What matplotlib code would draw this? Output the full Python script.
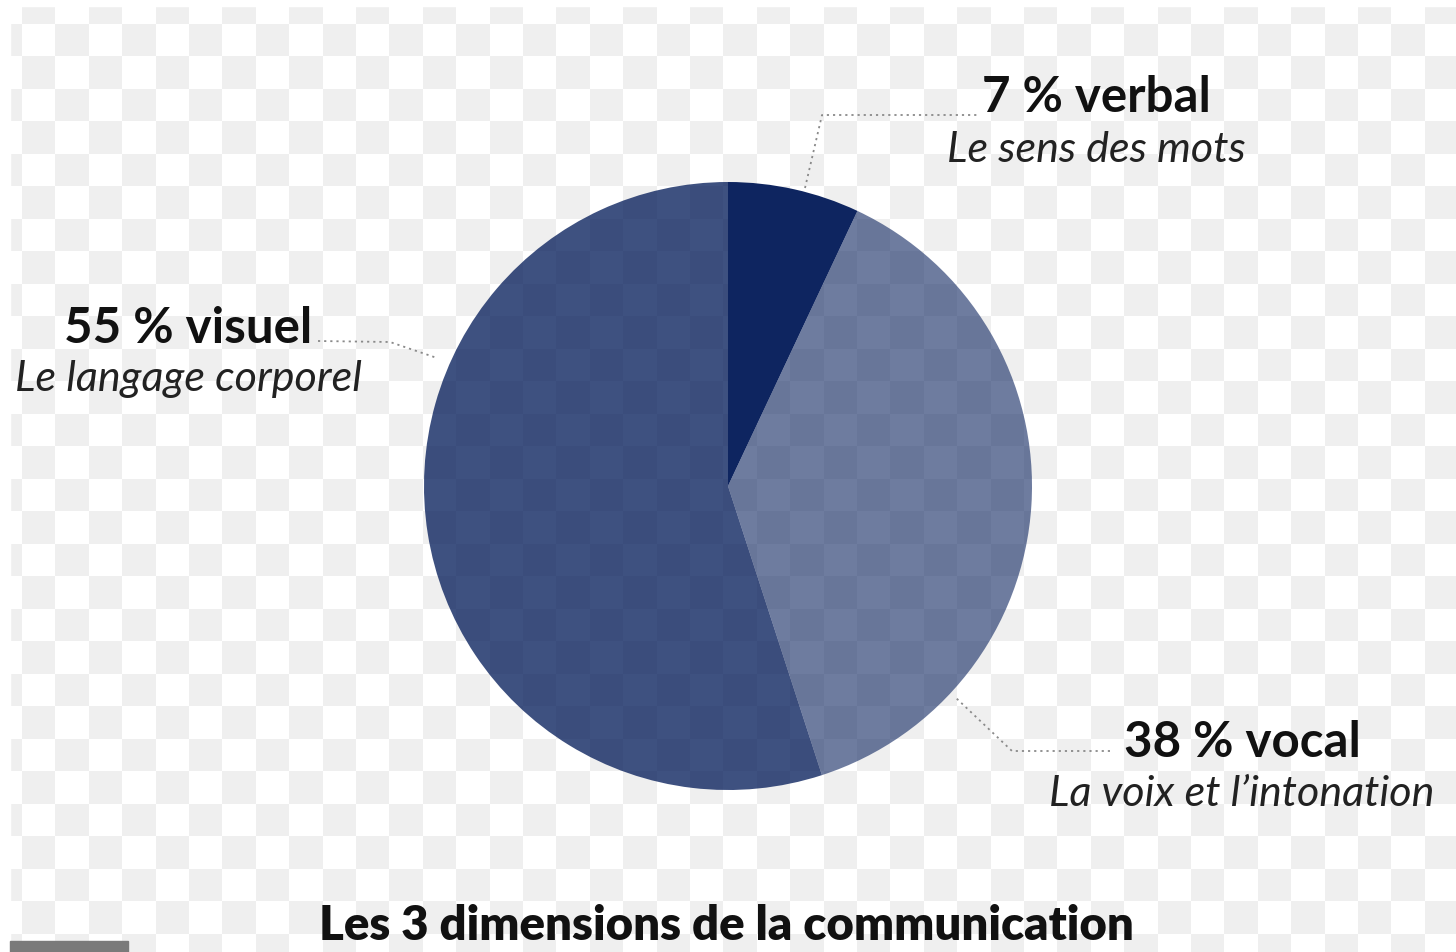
import numpy as np
import matplotlib
matplotlib.use("Agg")
import matplotlib.pyplot as plt
from matplotlib.patches import Rectangle

# data
labels = ["verbal", "vocal", "visuel"]
shares = [7, 38, 55]
subtitles = ["Le sens des mots", "La voix et l\u2019intonation", "Le langage corporel"]
title = "Les 3 dimensions de la communication"

W, H = 1456, 953
fig = plt.figure(figsize=(W / 100, H / 100), dpi=100)
ax = fig.add_axes([0, 0, 1, 1])

# checkerboard background (transparency pattern of the original picture)
cw, ch = 33.4, 32.5
x0, y0 = 22 - cw, 25 - ch
nc, nr = 45, 30
jj, kk = np.mgrid[0:nr, 0:nc]
board = np.where((jj + kk) % 2 == 0, 1.0, 0.937)
ax.imshow(board, cmap="gray", vmin=0, vmax=1, interpolation="nearest",
          extent=(x0, x0 + nc * cw, y0 + nr * ch, y0), zorder=0)
ax.add_patch(Rectangle((0, 0), 10, H, color="white", zorder=1))
ax.add_patch(Rectangle((0, 0), W, 7, color="white", zorder=1))
ax.add_patch(Rectangle((10, 942), 118, 12, color="#7a7a7a", zorder=1))

# pie (y axis is inverted: start at -90 and go counterclockwise in data = clockwise on screen)
navy = "#0e2560"
alphas = [1.0, 0.6, 0.8]
wedges, _ = ax.pie(shares, startangle=-90, counterclock=True, center=(728, 487),
                   radius=304, wedgeprops=dict(linewidth=0))
for w, a in zip(wedges, alphas):
    w.set_facecolor(navy)
    w.set_alpha(a)
    w.set_zorder(2)

# leader lines
lead = dict(color="#8a8a8a", lw=1.3, ls=(0, (1.2, 2.2)), zorder=3)
ax.plot([805, 822, 978], [189, 116, 116], **lead)
ax.plot([1110, 1012, 955], [752, 752, 698], **lead)
ax.plot([318, 390, 437], [342, 343, 359], **lead)

bold = dict(family=["Lato", "DejaVu Sans"], fontweight="bold", fontsize=35.5,
            color="#111111", ha="center", va="baseline", zorder=4)
ital = dict(family=["Lato", "DejaVu Sans"], style="italic", fontsize=31,
            color="#222222", ha="center", va="baseline", zorder=4)

pos = {"verbal": (1096, 112, 162), "vocal": (1242, 757, 806), "visuel": (188, 343, 391)}
for lab, sh, sub in zip(labels, shares, subtitles):
    x, yb, yi = pos[lab]
    ax.text(x, yb, f"{sh} % {lab}", **bold)
    ax.text(x, yi, sub, **ital)

ax.text(726, 940, title, family=["Lato", "DejaVu Sans"],
        fontweight="heavy", fontsize=34, color="#111111", ha="center",
        va="baseline", zorder=4)

ax.set_xlim(0, W)
ax.set_ylim(H, 0)
ax.set_axis_off()

fig.savefig("out.png", dpi=100)
